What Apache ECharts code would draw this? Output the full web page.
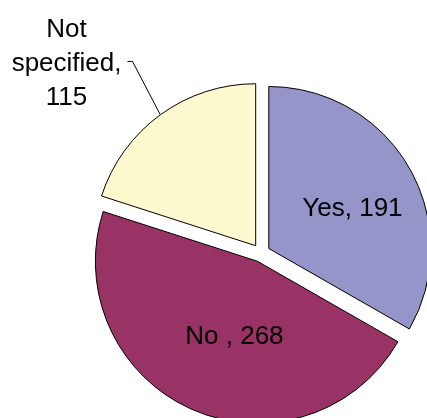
<!DOCTYPE html>
<html>
<head>
<meta charset="utf-8">
<script src="https://cdn.jsdelivr.net/npm/echarts@6/dist/echarts.min.js"></script>
<style>
  html, body { margin: 0; padding: 0; background: #fff; }
  #chart { width: 427px; height: 418px; }
</style>
</head>
<body>
<div id="chart"></div>
<script>
// Survey answers, drawn clockwise from 12 o'clock
const categories = ['Yes', 'No ', 'Not specified'];
const counts = [191, 268, 115];
const colors = ['#9595C9', '#993366', '#FCF9CF'];

const FONT = '"Liberation Sans", Arial, sans-serif';
const FONT_SIZE = 26;

const chart = echarts.init(document.getElementById('chart'), null, { renderer: 'canvas' });

const data = categories.map((name, i) => {
  const item = {
    name: name,
    value: counts[i],
    selected: true,
    itemStyle: { color: colors[i] }
  };
  if (i === 2) {
    item.label = {
      position: 'outside',
      formatter: p => '{c|Not}\n{c|specified,}\n{c|' + p.value + '}',
      rich: { c: { align: 'center', fontSize: FONT_SIZE, fontFamily: FONT, color: '#000', lineHeight: 34 } }
    };
    item.labelLine = { show: true, length: 66, length2: 5, lineStyle: { color: '#000', width: 1 } };
  }
  return item;
});

// Nudge the labels; the outside label keeps its leader line attached
// to the slice anchor and ends with a short horizontal tick beside the text.
function layoutLabel(p) {
  if (p.dataIndex === 0) return { dx: 11, dy: 2 };
  if (p.dataIndex === 1) return { dx: 11, dy: -1 };
  const dx = 10, dy = 2;
  const r = p.labelRect;
  const anchor = p.labelLinePoints ? p.labelLinePoints[0] : null;
  const out = { dx: dx, dy: dy };
  if (anchor) {
    const xr = r.x + r.width + dx;
    const ym = r.y + r.height / 2 + dy - 2;
    out.labelLinePoints = [anchor, [xr + 11, ym], [xr + 6, ym]];
  }
  return out;
}

chart.setOption({
  animation: false,
  series: [{
    type: 'pie',
    center: [261, 253],
    radius: 162,
    startAngle: 90,
    clockwise: true,
    selectedMode: 'multiple',
    selectedOffset: 9,
    avoidLabelOverlap: false,
    itemStyle: { borderColor: '#000', borderWidth: 1 },
    label: {
      show: true,
      position: 'inside',
      formatter: p => p.name + ', ' + p.value,
      fontSize: FONT_SIZE,
      fontFamily: FONT,
      color: '#000'
    },
    labelLine: { show: false },
    labelLayout: layoutLabel,
    emphasis: { disabled: true },
    data: data
  }]
});
</script>
</body>
</html>
